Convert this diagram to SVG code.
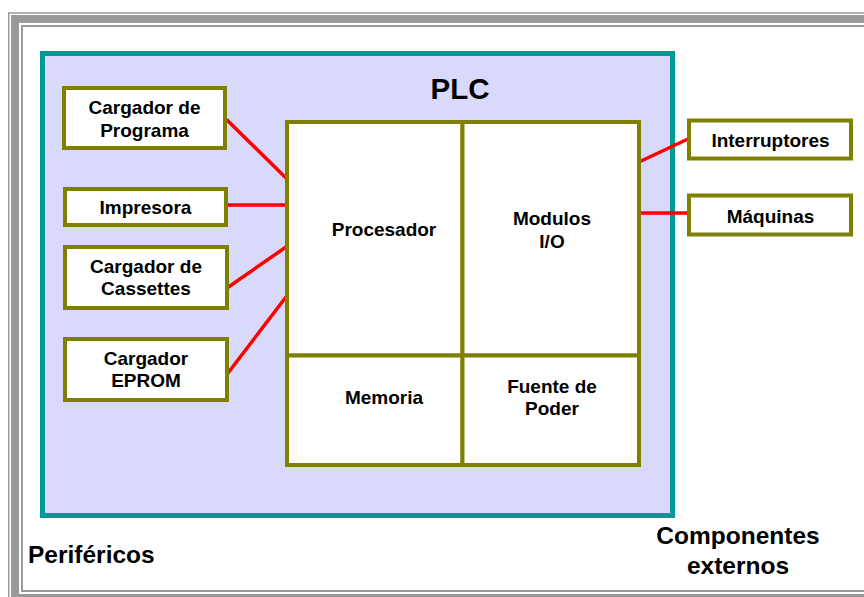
<svg xmlns="http://www.w3.org/2000/svg" width="864" height="597" viewBox="0 0 864 597">
<style>
.t{font-family:"Liberation Sans",Arial,sans-serif;font-weight:bold;font-size:19px;fill:#000;text-anchor:middle}
.box{fill:#fff;stroke:#808000;stroke-width:4}
.con{stroke:#ff0000;stroke-width:3.5;fill:none;stroke-linecap:round}
.fr{fill:none;stroke:#999999}
</style>
<rect x="0" y="0" width="864" height="597" fill="#fff"/>
<g id="frame">
<rect class="fr" x="8.75" y="13" width="900" height="620" stroke-width="1.5"/>
<rect class="fr" x="15" y="19" width="900" height="579" stroke-width="8"/>
<rect class="fr" x="22" y="26" width="900" height="565" stroke-width="2"/>
</g>
<g id="plc-area">
<rect x="42.5" y="53.5" width="630" height="462" fill="#d9d9fc" stroke="#009999" stroke-width="5"/>
<text class="t" x="460" y="98.5" style="font-size:29.5px">PLC</text>
</g>
<g id="connectors">
<line class="con" x1="227" y1="120" x2="286" y2="178"/>
<line class="con" x1="226" y1="205" x2="286" y2="205"/>
<line class="con" x1="227" y1="288" x2="286" y2="247"/>
<line class="con" x1="228" y1="373" x2="286" y2="297"/>
<line class="con" x1="640" y1="161.5" x2="689" y2="138.5"/>
<line class="con" x1="640" y1="213" x2="689" y2="213"/>
</g>
<g id="procesador">
<rect class="box" x="287" y="122" width="175.5" height="233.5"/>
<text class="t" x="384" y="236">Procesador</text>
</g>
<g id="modulos">
<rect class="box" x="462.5" y="122" width="176.5" height="233.5"/>
<text class="t" x="552"><tspan x="552" y="225">Modulos</tspan><tspan x="552" y="248">I/O</tspan></text>
</g>
<g id="memoria">
<rect class="box" x="287" y="355.5" width="175.5" height="109.5"/>
<text class="t" x="384" y="404">Memoria</text>
</g>
<g id="fuente">
<rect class="box" x="462.5" y="355.5" width="176.5" height="109.5"/>
<text class="t" x="552"><tspan x="552" y="393">Fuente de</tspan><tspan x="552" y="415">Poder</tspan></text>
</g>
<g id="cargador-programa">
<rect class="box" x="64" y="88" width="161" height="60"/>
<text class="t"><tspan x="144.5" y="114">Cargador de</tspan><tspan x="144.5" y="137">Programa</tspan></text>
</g>
<g id="impresora">
<rect class="box" x="65" y="189" width="161" height="36"/>
<text class="t" x="145.5" y="214">Impresora</text>
</g>
<g id="cargador-cassettes">
<rect class="box" x="65" y="247" width="162" height="61"/>
<text class="t"><tspan x="146" y="273">Cargador de</tspan><tspan x="146" y="294.5">Cassettes</tspan></text>
</g>
<g id="cargador-eprom">
<rect class="box" x="65" y="339" width="162" height="61"/>
<text class="t"><tspan x="146" y="365">Cargador</tspan><tspan x="146" y="387">EPROM</tspan></text>
</g>
<g id="interruptores">
<rect class="box" x="689" y="120.5" width="162" height="38"/>
<text class="t" x="770.5" y="147">Interruptores</text>
</g>
<g id="maquinas">
<rect class="box" x="689" y="195.5" width="162" height="39"/>
<text class="t" x="770.5" y="222.5">Máquinas</text>
</g>
<g id="labels">
<text class="t" x="28" y="562.5" style="font-size:24.5px;text-anchor:start">Periféricos</text>
<text class="t" style="font-size:24.5px"><tspan x="738" y="544">Componentes</tspan><tspan x="738" y="573.5">externos</tspan></text>
</g>
</svg>
